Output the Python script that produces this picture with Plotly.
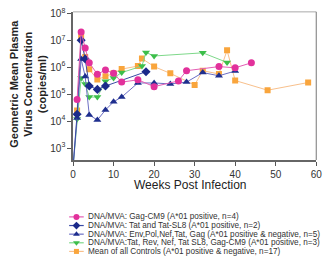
import plotly.graph_objects as go

# ---------------- data (weeks post infection, copies/ml) ----------------
gag_weeks = [1, 2, 3, 4, 6, 8, 10, 12, 16, 20, 26, 28, 36, 40, 44]
gag_vals = [6.3e4, 2.0e7, 5.1e6, 1.45e6, 5.5e5, 7.8e5, 5.9e5, 2.8e5, 3.4e5, 1.9e5,
            3.1e5, 7.4e5, 1.05e6, 9.5e5, 1.45e6]

tat_weeks = [0, 1, 2, 3, 4, 6, 8, 18]
tat_vals = [2.0e2, 1.8e4, 1.0e7, 2.0e6, 2.0e5, 1.5e5, 2.0e5, 6.8e5]

env_weeks = [0, 1, 2, 3, 4, 6, 8, 10, 12, 16, 20, 24, 28, 32, 36, 40]
env_vals = [2.0e2, 1.3e4, 2.0e6, 4.5e5, 1.7e4, 1.1e4, 2.6e4, 5.2e4, 7.8e4, 2.6e5,
            2.6e5, 2.4e5, 2.8e5, 6.3e5, 4.8e5, 7.2e5]

trn_weeks = [0, 1, 2, 3, 4, 6, 8, 10, 12, 17, 18, 20, 32, 38]
trn_vals = [2.0e2, 1.2e4, 4.0e5, 2.4e5, 7.8e4, 7.8e4, 3.0e5, 4.0e5, 6.3e5, 1.1e6,
            3.5e6, 2.6e6, 3.4e6, 1.5e6]

ctl_weeks = [1, 2, 3, 4, 6, 8, 10, 12, 16, 17, 20, 24, 30, 32, 36, 38, 40, 48, 58]
ctl_vals = [2.5e4, 1.4e7, 2.4e6, 8.3e5, 3.5e5, 4.6e5, 5.9e5, 8.5e5, 1.1e6, 2.1e6,
            1.05e6, 5.9e5, 2.2e5, 7.4e5, 5.6e5, 4.2e6, 3.2e5, 1.4e5, 2.7e5]

series_names = [
    "DNA/MVA: Gag-CM9 (A*01 positive, n=4)",
    "DNA/MVA: Tat and Tat-SL8 (A*01 positive, n=2)",
    "DNA/MVA: Env,Pol,Nef,Tat, Gag (A*01 positive &amp; negative, n=5)",
    "DNA/MVA:Tat, Rev, Nef, Tat SL8, Gag-CM9 (A*01 positive, n=3)",
    "Mean of all Controls (A*01 positive &amp; negative, n=17)",
]

x_ticks = [0, 10, 20, 30, 40, 50, 60]
y_tickvals = [1e3, 1e4, 1e5, 1e6, 1e7, 1e8]
y_ticktext = ["10<sup>3</sup>", "10<sup>4</sup>", "10<sup>5</sup>", "10<sup>6</sup>",
              "10<sup>7</sup>", "10<sup>8</sup>"]

# ---------------- styles ----------------
W, H = 331, 263
FONT = "Liberation Sans, Arial, sans-serif"
styles = [
    dict(symbol="circle", size=7, mcolor="#E2319B", lcolor="#E45DB4"),
    dict(symbol="diamond", size=7, mcolor="#1B2A8A", lcolor="#3A4AA6"),
    dict(symbol="triangle-up", size=7, mcolor="#1E2E8E", lcolor="#6C6FC4"),
    dict(symbol="triangle-down", size=7, mcolor="#3DBE4A", lcolor="#7ED88A"),
    dict(symbol="square", size=6, mcolor="#F9A53C", lcolor="#F8C08C"),
]
data = [(gag_weeks, gag_vals), (tat_weeks, tat_vals), (env_weeks, env_vals),
        (trn_weeks, trn_vals), (ctl_weeks, ctl_vals)]
draw_order = [4, 3, 2, 1, 0]

# plot area in pixels
L, R, T, B = 72, 322, 7, 158

fig = go.Figure()
for i in draw_order:
    xs, ys = data[i]
    st = styles[i]
    fig.add_trace(go.Scatter(
        x=xs, y=ys, mode="lines+markers", name=series_names[i], showlegend=False,
        line=dict(color=st["lcolor"], width=1),
        marker=dict(symbol=st["symbol"], size=st["size"], color=st["mcolor"],
                    line=dict(width=0)),
        xaxis="x", yaxis="y"))

# manual legend (pixel-coordinate overlay axes)
leg_y0, leg_dy = 216, 8.8
for i, name in enumerate(series_names):
    st = styles[i]
    yy = leg_y0 + leg_dy * i
    fig.add_trace(go.Scatter(
        x=[68, 83], y=[yy, yy], mode="lines", showlegend=False, hoverinfo="skip",
        line=dict(color=st["lcolor"], width=1.2), xaxis="x2", yaxis="y2"))
    fig.add_trace(go.Scatter(
        x=[75.5], y=[yy], mode="markers", showlegend=False, hoverinfo="skip",
        marker=dict(symbol=st["symbol"], size=st["size"] - 1, color=st["mcolor"]),
        xaxis="x2", yaxis="y2"))
    fig.add_annotation(x=85, y=yy, xref="x2", yref="y2", text=name, showarrow=False,
                       xanchor="left", yanchor="middle",
                       font=dict(family=FONT, size=8.2, color="#333333"))

fig.update_layout(
    width=W, height=H, margin=dict(l=0, r=0, t=0, b=0),
    paper_bgcolor="white", plot_bgcolor="rgba(0,0,0,0)",
    font=dict(family=FONT, color="#333333"),
    xaxis=dict(domain=[L / W, R / W], range=[0, 60], tickvals=x_ticks,
               ticks="outside", ticklen=4, tickcolor="#555555", tickwidth=1,
               showline=True, linecolor="#666666", linewidth=1.5,
               showgrid=False, zeroline=False,
               tickfont=dict(size=10, color="#333333", family=FONT), anchor="y"),
    yaxis=dict(domain=[1 - B / H, 1 - T / H], type="log", range=[2.56, 8.05],
               tickvals=y_tickvals, ticktext=y_ticktext,
               ticks="outside", ticklen=4, tickcolor="#555555", tickwidth=1,
               showline=True, linecolor="#666666", linewidth=1.5,
               showgrid=False, zeroline=False,
               tickfont=dict(size=10, color="#333333", family=FONT), anchor="x"),
    xaxis2=dict(domain=[0, 1], range=[0, W], visible=False, anchor="y2"),
    yaxis2=dict(domain=[0, 1], range=[H, 0], visible=False, anchor="x2"),
    shapes=[
        dict(type="line", xref="paper", yref="paper", x0=L / W, x1=R / W,
             y0=1 - T / H, y1=1 - T / H, line=dict(color="#aaaaaa", width=1)),
        dict(type="line", xref="paper", yref="paper", x0=R / W, x1=R / W,
             y0=1 - T / H, y1=1 - B / H, line=dict(color="#777777", width=1)),
    ],
)

# axis titles
fig.add_annotation(x=26 / W, y=1 - 80 / H, xref="paper", yref="paper",
                   text="Geometric Mean Plasma<br>Virus Concentration<br>(copies/ml)",
                   textangle=-90, showarrow=False, xanchor="center", yanchor="middle",
                   font=dict(family=FONT, size=11, color="#222222", weight="bold"))
fig.add_annotation(x=193 / W, y=1 - 183 / H, xref="paper", yref="paper",
                   text="Weeks Post Infection", showarrow=False,
                   xanchor="center", yanchor="middle",
                   font=dict(family=FONT, size=12, color="#222222"))

fig.write_html("out.html")
